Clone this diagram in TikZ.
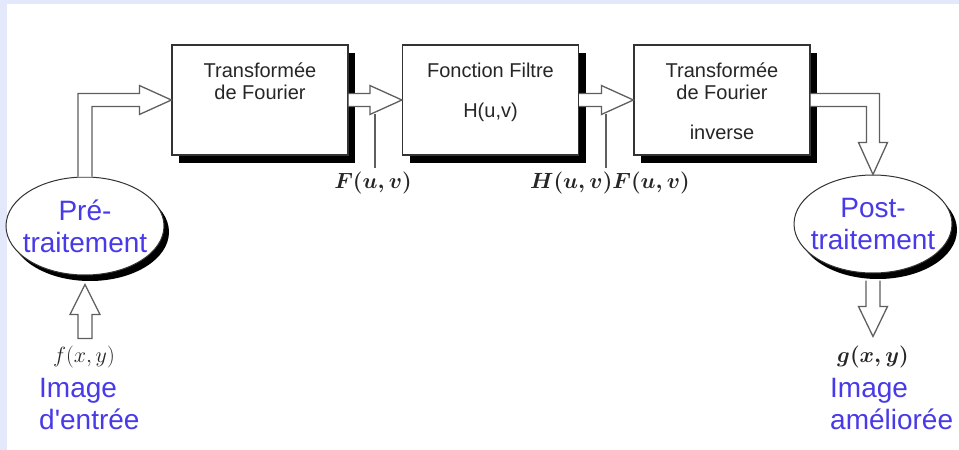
\RequirePackage{fix-cm}
\documentclass[tikz,border=0pt]{standalone}
\usepackage{amsmath}
\usepackage[no-math]{fontspec}
\setmainfont{Liberation Sans}[Ligatures=TeXOff]
\usetikzlibrary{positioning,calc,shapes.geometric,shadows}

\definecolor{bleu}{RGB}{72,58,232}
\definecolor{fond}{RGB}{228,232,251}
\definecolor{trait}{RGB}{95,95,95}

\begin{document}
\begin{tikzpicture}[x=1pt,y=-1pt,
  bloc/.style={draw=black!80,line width=1.2pt,fill=white,minimum width=176pt,
    minimum height=110pt,inner sep=0pt,
    drop shadow={shadow xshift=7pt,shadow yshift=-8pt,opacity=1,fill=black}},
  ovale/.style={ellipse,draw=black!80,line width=1pt,fill=white,inner sep=0pt,
    minimum width=158pt,minimum height=98pt,
    drop shadow={shadow xshift=5pt,shadow yshift=-6pt,opacity=1,fill=black}},
  txt/.style={text=black!85,font=\fontsize{20}{22}\selectfont,align=center,inner sep=0pt},
  bleutxt/.style={text=bleu,font=\fontsize{28}{32}\selectfont,inner sep=0pt},
  fleche/.style={draw=trait,line width=1.3pt,fill=white,line join=miter},
  repere/.style={draw=trait,line width=1.2pt},
  signal/.style={text=black!85,font=\fontsize{22}{26}\selectfont,inner sep=0pt}]
\useasboundingbox (0,0) rectangle (959,450);
\fill[fond] (0,0) rectangle (959,450);
\fill[white] (7,4) rectangle (959,450);

% les trois blocs
\node[bloc] (tf1) at (260,100) {};
\node[bloc] (filt) at (490.5,100) {};
\node[bloc] (tfi) at (722,100) {};
\node[txt,below=18pt of tf1.north] {Transformée\\de Fourier};
\node[txt,below=18pt of filt.north] {Fonction Filtre\\[18pt]H(u,v)};
\node[txt,below=18pt of tfi.north] {Transformée\\de Fourier\\[18pt]inverse};

% pre et post traitement
\node[ovale] (pre) at (85,226) {};
\node[bleutxt,align=center] at (pre) {Pré-\\traitement};
\node[ovale] (post) at (873,224) {};
\node[bleutxt,align=center] at (post) {Post-\\traitement};

% fleches creuses
\draw[fleche] ($(pre.north)+(-7,0)$) |- ($(tf1.west)+(-32,-6.5)$) -- ++(0,-8)
  -- (tf1.west) -- ++(-32,14.5) -- ++(0,-8) -| ($(pre.north)+(7,0)$);
\draw[fleche] ($(tf1.east)+(0,-6.5)$) -- ($(filt.west)+(-32,-6.5)$) -- ++(0,-8)
  -- (filt.west) -- ++(-32,14.5) -- ++(0,-8) -- ($(tf1.east)+(0,6.5)$);
\draw[fleche] ($(filt.east)+(0,-6.5)$) -- ($(tfi.west)+(-32,-6.5)$) -- ++(0,-8)
  -- (tfi.west) -- ++(-32,14.5) -- ++(0,-8) -- ($(filt.east)+(0,6.5)$);
\draw[fleche] ($(tfi.east)+(0,-6.5)$) -| ($(post.north)+(6.5,-32)$) -- ++(8,0)
  -- (post.north) -- ++(-14.5,-32) -- ++(8,0) |- ($(tfi.east)+(0,6.5)$);
\draw[fleche] ($(pre.south)+(0,9)$) -- ++(15,30) -- ++(-8,0) -- ++(0,24)
  -- ++(-14,0) -- ++(0,-24) -- ++(-8,0) -- cycle;
\draw[fleche] ($(post.south)+(-7,7)$) -- ++(0,26) -- ++(-7.5,0) -- ++(14.5,30)
  -- ++(14.5,-30) -- ++(-7.5,0) -- ++(0,-26);

% signaux
\node[signal] (Fuv) at (373,183) {$\boldsymbol{F(u,v)}$};
\node[signal] (HF) at (610,183) {$\boldsymbol{H(u,v)F(u,v)}$};
\draw[repere] ($(Fuv.north)+(2,-4)$) -- ++(0,-54);
\draw[repere] ($(HF.north)+(-4,-4)$) -- ++(0,-54);
\node[signal] (fxy) at (84,357) {$f(x,y)$};
\node[signal] (gxy) at (873,357) {$\boldsymbol{g(x,y)}$};
\node[bleutxt,align=left,anchor=north west] (entree) at (39,378) {Image\\d'entrée};
\node[bleutxt,align=left,anchor=north west] (sortie) at (830,378) {Image\\améliorée};
\end{tikzpicture}
\end{document}
